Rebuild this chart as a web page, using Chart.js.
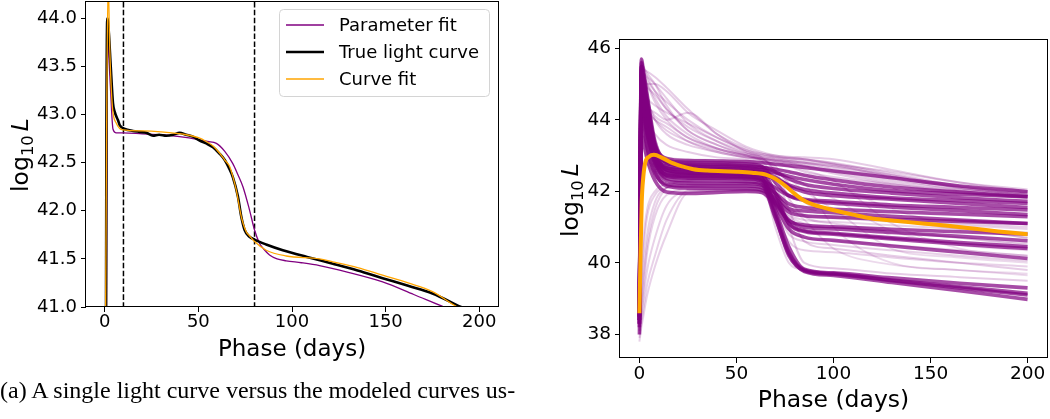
<!DOCTYPE html>
<html>
<head>
<meta charset="utf-8">
<script src="https://cdn.jsdelivr.net/npm/chart.js@4.4.1/dist/chart.umd.min.js"></script>
<style>
  html, body { margin: 0; padding: 0; background: #fff; }
  #page { position: relative; width: 1050px; height: 419px; overflow: hidden; background: #fff; }
  #left { position: absolute; left: 0; top: 0; }
  #right { position: absolute; left: 530px; top: 0; }
  #caption { position: absolute; left: 0; top: 377px; font-family: "Liberation Serif", "Times New Roman", serif;
             font-size: 24px; line-height: 26px; white-space: nowrap; color: #000; }
</style>
</head>
<body>
<div id="page">
  <canvas id="left" width="520" height="380"></canvas>
  <canvas id="right" width="520" height="419"></canvas>
  <div id="caption">(a) A single light curve versus the modeled curves us-</div>
</div>
<script>
// ---- left panel: one light curve and its two fits ----
const phaseTrue = [0.6, 0.9, 1.4, 2.2, 3.2, 4.4, 5.3, 7.1, 8.0, 10.7, 15.1, 18.7, 22.2, 25.8, 29, 32.9, 36.5, 40, 43.5, 47.1,
                   50.7, 54.2, 57.8, 61, 64, 66.2, 68.4, 71.1, 72.9, 74.7, 77.3, 80, 86.2, 95.1, 108, 121.8, 135, 148.4,
                   162, 175, 190.2, 196];
const logLTrue = [40.0, 42.8, 44.0, 43.85, 43.5, 43.12, 43.03, 42.94, 42.89, 42.85, 42.83, 42.82, 42.81, 42.78, 42.79,
                  42.78, 42.79, 42.81, 42.79, 42.77, 42.73, 42.70, 42.66, 42.6, 42.53, 42.45, 42.35, 42.15, 41.94, 41.80,
                  41.73, 41.70, 41.65, 41.59, 41.52, 41.45, 41.38, 41.30, 41.22, 41.14, 41.0, 40.95];

const phaseParam = [0.8, 1.5, 2.2, 3.0, 4.4, 6.2, 10, 20, 30, 40, 50, 55, 59.6, 64, 68.4, 71, 73.8, 77.3, 80, 82.7, 85,
                    88, 92, 96.9, 105, 114.7, 130, 148.4, 165, 181.3, 192];
const logLParam = [40.0, 43.95, 43.6, 43.3, 42.85, 42.81, 42.81, 42.80, 42.79, 42.77, 42.74, 42.72, 42.70, 42.62, 42.49,
                   42.38, 42.25, 42.01, 41.80, 41.66, 41.6, 41.54, 41.5, 41.48, 41.46, 41.43, 41.36, 41.26, 41.13, 41.0, 40.92];

const phaseCurve = [0.2, 1.0, 1.8, 2.7, 4.1, 6.2, 9.8, 20, 30, 43.6, 50, 54.2, 58, 61.3, 64, 66.7, 68.5, 70.2, 72.9, 75.6,
                    77.3, 80, 86.2, 96.9, 114.7, 121.8, 135, 148.4, 162, 175, 188.4, 195];
const logLCurve = [40.0, 42.8, 44.4, 43.67, 43.08, 42.91, 42.84, 42.83, 42.82, 42.79, 42.76, 42.72, 42.67, 42.60, 42.53,
                   42.46, 42.35, 42.22, 41.94, 41.78, 41.74, 41.68, 41.59, 41.53, 41.50, 41.47, 41.41, 41.33, 41.25, 41.16,
                   41.0, 40.95];

const cutPhases = [10, 80];
const xTicks = [0, 50, 100, 150, 200];
const leftYTicks = [41.0, 41.5, 42.0, 42.5, 43.0, 43.5, 44.0];
const rightYTicks = [38, 40, 42, 44, 46];

// ---- right panel: the family of model curves plus the fitted curve ----
const phaseGrid = [0, 1, 2, 4, 8, 14, 25, 40, 55, 63, 70, 77, 85, 100, 130, 165, 200];

const denseCurves = [
  [38.6, 45.3, 45.0, 44.3, 43.3, 42.92, 42.86, 42.85, 42.83, 42.8, 42.76, 42.72, 42.67, 42.57, 42.38, 42.15, 41.99],
  [38.4, 44.9, 44.6, 43.9, 43.0, 42.7, 42.65, 42.64, 42.62, 42.6, 42.52, 42.42, 42.33, 42.2, 42.02, 41.92, 41.85],
  [38.7, 45.5, 45.2, 44.4, 43.2, 42.6, 42.51, 42.5, 42.48, 42.45, 42.35, 42.18, 42.05, 41.95, 41.82, 41.74, 41.66],
  [38.3, 44.6, 44.2, 43.6, 42.8, 42.42, 42.37, 42.36, 42.35, 42.3, 42.1, 41.88, 41.78, 41.72, 41.62, 41.55, 41.48],
  [38.5, 45.0, 44.6, 43.8, 42.75, 42.3, 42.23, 42.22, 42.22, 42.18, 41.95, 41.65, 41.55, 41.5, 41.43, 41.36, 41.29],
  [38.2, 44.3, 44.0, 43.3, 42.55, 42.15, 42.09, 42.08, 42.08, 42.04, 41.8, 41.42, 41.32, 41.28, 41.22, 41.16, 41.10],
  [38.0, 43.6, 43.4, 42.9, 42.3, 41.98, 41.94, 41.97, 42.0, 41.97, 41.65, 41.18, 41.06, 41.01, 40.94, 40.87, 40.8],
  [38.6, 45.6, 45.3, 44.6, 43.3, 42.8, 42.72, 42.7, 42.66, 42.58, 41.95, 41.1, 40.88, 40.8, 40.67, 40.52, 40.4],
  [38.4, 45.1, 44.8, 44.0, 43.0, 42.52, 42.46, 42.45, 42.42, 42.35, 41.65, 40.95, 40.72, 40.63, 40.47, 40.3, 40.12],
  [38.5, 45.4, 45.1, 44.3, 43.1, 42.66, 42.6, 42.6, 42.56, 42.48, 41.5, 40.45, 39.82, 39.72, 39.58, 39.43, 39.3],
  [38.3, 44.8, 44.4, 43.7, 42.8, 42.36, 42.3, 42.3, 42.27, 42.2, 41.25, 40.25, 39.76, 39.65, 39.45, 39.22, 38.98],
  [38.7, 45.7, 45.4, 44.7, 43.4, 42.88, 42.81, 42.8, 42.77, 42.7, 42.25, 41.88, 41.75, 41.67, 41.56, 41.46, 41.35],
  [38.5, 45.2, 44.9, 44.1, 43.0, 42.6, 42.55, 42.55, 42.52, 42.45, 41.95, 41.52, 41.45, 41.4, 41.3, 41.2, 41.1],
  [38.4, 44.7, 44.3, 43.6, 42.85, 42.46, 42.42, 42.42, 42.4, 42.33, 41.8, 41.1, 40.9, 40.83, 40.7, 40.57, 40.45],
  [38.6, 45.3, 45.0, 44.2, 43.05, 42.55, 42.5, 42.5, 42.46, 42.38, 41.4, 40.3, 39.8, 39.7, 39.52, 39.33, 39.15],
  [38.5, 45.5, 45.2, 44.5, 43.3, 42.82, 42.76, 42.75, 42.72, 42.68, 42.55, 42.35, 42.2, 42.08, 41.95, 41.82, 41.72],
  [38.4, 45.0, 44.7, 43.9, 43.0, 42.65, 42.6, 42.6, 42.58, 42.55, 42.4, 42.15, 41.98, 41.88, 41.78, 41.66, 41.55],
  [38.3, 44.2, 43.9, 43.2, 42.5, 42.2, 42.15, 42.15, 42.15, 42.1, 41.7, 41.2, 41.0, 40.95, 40.85, 40.74, 40.62],
  [38.6, 45.4, 45.1, 44.4, 43.2, 42.77, 42.71, 42.7, 42.69, 42.67, 42.62, 42.55, 42.45, 42.32, 42.12, 41.98, 41.85],
  [38.5, 44.9, 44.5, 43.8, 42.9, 42.45, 42.4, 42.4, 42.37, 42.28, 41.3, 40.2, 39.78, 39.68, 39.5, 39.3, 39.1]
];

const brightCurves = [
  [38.5, 45.7, 45.5, 45.2, 44.8, 44.3, 43.8, 43.4, 43.1, 43.0, 42.95, 42.92, 42.9, 42.8, 42.5, 42.15, 41.94],
  [38.5, 45.3, 45.4, 45.35, 45.2, 44.9, 44.3, 43.6, 43.2, 43.05, 42.97, 42.93, 42.9, 42.75, 42.4, 42.1, 41.9],
  [38.6, 44.8, 44.9, 45.0, 45.0, 44.8, 44.2, 43.7, 43.25, 43.1, 43.0, 42.97, 42.95, 42.9, 42.6, 42.25, 42.0],
  [38.6, 44.0, 44.2, 44.3, 44.2, 44.0, 44.2, 43.6, 43.1, 42.95, 42.9, 42.85, 42.8, 42.7, 42.4, 42.1, 41.9],
  [38.5, 45.0, 44.6, 44.0, 43.6, 43.3, 43.1, 42.95, 42.9, 42.85, 42.8, 42.7, 42.55, 42.4, 42.2, 42.0, 41.85],
  [38.4, 45.5, 45.2, 44.6, 44.0, 43.6, 43.3, 43.1, 42.95, 42.9, 42.6, 41.8, 41.3, 41.1, 40.9, 40.7, 40.5],
  [38.5, 45.1, 45.0, 44.9, 44.7, 44.3, 43.7, 43.3, 43.0, 42.9, 42.85, 42.8, 42.75, 42.6, 42.3, 42.05, 41.95],
  [38.6, 44.6, 44.5, 44.3, 44.0, 43.7, 43.4, 43.15, 42.95, 42.85, 42.2, 41.0, 40.0, 39.85, 39.7, 39.6, 39.5],
  [38.4, 45.6, 45.3, 45.0, 44.5, 44.0, 43.5, 43.2, 43.0, 42.92, 42.85, 42.8, 42.7, 42.5, 42.2, 41.95, 41.8],
  [38.5, 45.2, 45.3, 45.2, 45.0, 44.6, 43.9, 43.4, 43.05, 42.95, 42.9, 42.85, 42.8, 42.7, 42.45, 42.15, 41.99],
  [38.5, 45.4, 45.3, 45.1, 44.8, 44.5, 44.0, 43.5, 43.15, 43.05, 43.0, 42.95, 42.9, 42.78, 42.45, 42.1, 41.9],
  [38.6, 45.0, 45.1, 45.0, 44.6, 44.1, 43.6, 43.2, 43.0, 42.9, 42.7, 42.2, 41.7, 41.45, 41.2, 40.95, 40.7],
  [38.5, 44.4, 44.3, 44.2, 44.0, 43.8, 43.4, 43.1, 42.95, 42.9, 42.85, 42.8, 42.72, 42.55, 42.25, 42.0, 41.85],
  [38.4, 45.3, 45.0, 44.5, 44.1, 43.9, 43.5, 43.2, 43.0, 42.92, 42.88, 42.85, 42.8, 42.65, 42.35, 42.05, 41.9],
  [38.5, 45.6, 45.5, 45.3, 45.0, 44.4, 43.7, 43.3, 43.05, 42.95, 42.5, 41.5, 40.6, 40.4, 40.2, 40.0, 39.8],
  [38.6, 44.9, 44.8, 44.6, 44.4, 44.2, 43.9, 43.5, 43.15, 43.0, 42.95, 42.9, 42.85, 42.75, 42.55, 42.25, 42.05]
];

const slowRiseCurves = [
  [38.0, 38.6, 39.2, 40.3, 41.3, 41.9, 42.05, 42.05, 42.05, 42.0, 41.7, 41.3, 41.1, 41.0, 40.85, 40.7, 40.55],
  [38.2, 39.0, 39.8, 40.8, 41.7, 42.1, 42.2, 42.2, 42.2, 42.15, 41.9, 41.5, 41.35, 41.3, 41.2, 41.1, 41.0],
  [37.9, 38.3, 38.7, 39.4, 40.2, 41.2, 42.0, 42.02, 42.03, 42.0, 41.5, 40.8, 40.6, 40.5, 40.35, 40.2, 40.05],
  [38.1, 38.9, 39.5, 40.5, 41.5, 42.1, 42.3, 42.35, 42.35, 42.3, 41.0, 40.0, 39.8, 39.7, 39.5, 39.3, 39.1],
  [38.0, 39.3, 40.3, 41.3, 41.9, 42.1, 42.15, 42.15, 42.15, 42.1, 41.85, 41.45, 41.3, 41.25, 41.15, 41.05, 40.95],
  [38.1, 38.5, 39.0, 39.8, 40.7, 41.6, 42.0, 42.05, 42.05, 42.0, 41.8, 41.35, 41.2, 41.15, 41.05, 40.95, 40.85],
  [37.8, 38.2, 38.5, 39.1, 39.9, 40.8, 41.95, 42.0, 42.0, 41.95, 41.4, 40.6, 40.35, 40.3, 40.15, 40.0, 39.9],
  [38.2, 39.6, 40.6, 41.5, 42.0, 42.2, 42.25, 42.25, 42.25, 42.2, 41.6, 40.9, 40.7, 40.62, 40.5, 40.35, 40.2]
];

const lateDropCurves = [
  [38.5, 44.0, 43.5, 42.9, 42.7, 42.65, 42.62, 42.6, 42.58, 42.5, 42.4, 42.3, 42.2, 41.0, 40.0, 39.8, 39.7],
  [38.5, 44.5, 44.0, 43.2, 42.8, 42.75, 42.72, 42.7, 42.67, 42.6, 42.5, 42.35, 42.0, 41.5, 40.4, 40.15, 40.0],
  [38.5, 45.0, 44.5, 43.6, 43.1, 42.95, 42.9, 42.88, 42.85, 42.8, 42.75, 42.7, 42.6, 42.3, 41.1, 40.4, 40.2],
  [38.5, 44.2, 43.7, 43.0, 42.75, 42.7, 42.68, 42.66, 42.63, 42.58, 42.5, 42.4, 42.2, 41.8, 40.9, 40.5, 40.35],
  [38.5, 44.8, 44.2, 43.3, 42.85, 42.8, 42.78, 42.76, 42.74, 42.7, 42.65, 42.55, 42.45, 42.2, 41.5, 41.0, 40.7],
  [38.5, 43.8, 43.3, 42.8, 42.55, 42.5, 42.48, 42.47, 42.45, 42.4, 42.1, 41.6, 41.2, 40.4, 39.95, 39.8, 39.65]
];

const phaseFitR = [0, 0.5, 1.2, 2, 3, 5, 7.5, 12, 17.5, 22, 27.8, 35, 50, 58, 65.5, 70, 75.8, 80, 84.3, 90, 99.7, 110,
                   120, 133, 146, 160, 171.7, 185, 200];
const logLFitR = [38.59, 40.0, 41.7, 42.4, 42.8, 42.97, 43.02, 42.93, 42.78, 42.7, 42.62, 42.58, 42.55, 42.52, 42.46,
                  42.35, 42.13, 41.93, 41.76, 41.62, 41.48, 41.35, 41.24, 41.17, 41.1, 41.03, 40.96, 40.88, 40.8];


Chart.defaults.font.family = '"DejaVu Sans"';
Chart.defaults.color = '#000';

function points(xs, ys) {
    return xs.map((x, i) => ({ x: x, y: ys[i] }));
} // points

// black box round the plot area
const framePlugin = {
    id: 'frame',
    afterDraw(chart) {
        const a = chart.chartArea, ctx = chart.ctx;
        ctx.save();
        ctx.strokeStyle = '#000';
        ctx.lineWidth = 1;
        ctx.strokeRect(Math.round(a.left) - 0.5, Math.round(a.top) + 0.5,
                       Math.round(a.right - a.left) + 1, Math.round(a.bottom - a.top) - 1);
        ctx.restore();
    }
}; // frame

// "log10 L" with a subscript and an italic L, turned on its side
const yTitlePlugin = {
    id: 'yTitle',
    afterDraw(chart, args, opts) {
        const ctx = chart.ctx;
        const size = opts.size;
        const f1 = size + 'px "DejaVu Sans"';
        const f2 = (size * 0.7) + 'px "DejaVu Sans"';
        const f3 = 'italic ' + size + 'px "DejaVu Sans"';
        ctx.save();
        ctx.translate(opts.x, opts.cy);
        ctx.rotate(-Math.PI / 2);
        ctx.fillStyle = '#000';
        ctx.textBaseline = 'alphabetic';
        ctx.font = f1; const w1 = ctx.measureText('log').width;
        ctx.font = f2; const w2 = ctx.measureText('10').width;
        ctx.font = f3; const w3 = ctx.measureText('L').width;
        const gap = size * 0.17;
        let x = -(w1 + w2 + gap + w3) / 2;
        ctx.font = f1; ctx.fillText('log', x, 0); x += w1;
        ctx.font = f2; ctx.fillText('10', x, size * 0.22); x += w2 + gap;
        ctx.font = f3; ctx.fillText('L', x, 0);
        ctx.restore();
    }
}; // y title

// legend box inside the plot, upper right
const boxLegendPlugin = {
    id: 'boxLegend',
    afterDraw(chart, args, opts) {
        const ctx = chart.ctx;
        const items = chart.data.datasets.filter(d => d.label).reverse();
        ctx.save();
        ctx.beginPath();
        ctx.roundRect(opts.x + 0.5, opts.y + 0.5, opts.w, opts.h, 4);
        ctx.fillStyle = 'rgba(255,255,255,0.8)';
        ctx.fill();
        ctx.strokeStyle = '#d4d4d4';
        ctx.lineWidth = 1;
        ctx.stroke();
        ctx.font = opts.size + 'px "DejaVu Sans"';
        ctx.textBaseline = 'middle';
        items.forEach((d, i) => {
            const y = opts.y + opts.first + i * opts.rowH;
            ctx.beginPath();
            ctx.moveTo(opts.x + 7, y);
            ctx.lineTo(opts.x + 45, y);
            ctx.strokeStyle = d.borderColor;
            ctx.lineWidth = d.borderWidth;
            ctx.stroke();
            ctx.fillStyle = '#000';
            ctx.fillText(d.label, opts.x + 60, y + 1);
        });
        ctx.restore();
    }
}; // legend


function axisX(height, titleSize, titlePad, tickSize) {
    return {
        type: 'linear', min: -10, max: 210,
        afterBuildTicks: s => { s.ticks = xTicks.map(v => ({ value: v })); },
        afterFit: s => { s.height = height; },
        grid: { display: true, drawOnChartArea: false, drawTicks: true, tickLength: 5, color: '#000', tickWidth: 1 },
        border: { display: false },
        ticks: { font: { size: tickSize }, padding: 0, maxRotation: 0, color: '#000' },
        title: { display: true, text: 'Phase (days)', font: { size: titleSize }, color: '#000',
                 padding: { top: 0, bottom: titlePad } }
    };
} // x axis

function axisY(width, min, max, tickVals, digits, tickSize) {
    return {
        type: 'linear', min: min, max: max,
        afterBuildTicks: s => { s.ticks = tickVals.map(v => ({ value: v })); },
        afterFit: s => { s.width = width; s.paddingTop = 0; s.paddingBottom = 0; },
        grid: { display: true, drawOnChartArea: false, drawTicks: true, tickLength: 5, color: '#000', tickWidth: 1 },
        border: { display: false },
        ticks: { font: { size: tickSize }, padding: 4, color: '#000', callback: v => v.toFixed(digits) }
    };
} // y axis


function leftChart() {
    const datasets = [
        { label: 'Curve fit', data: points(phaseCurve, logLCurve), borderColor: '#FFA500', borderWidth: 1.3 },
        { label: 'True light curve', data: points(phaseTrue, logLTrue), borderColor: '#000', borderWidth: 2.6 },
        { label: 'Parameter fit', data: points(phaseParam, logLParam), borderColor: '#800080', borderWidth: 1.3 }
    ];
    cutPhases.forEach(p => {
        datasets.push({ data: [{ x: p, y: 40.5 }, { x: p, y: 44.5 }], borderColor: '#000',
                        borderWidth: 1.5, borderDash: [5.5, 2.4] });
    });
    datasets.forEach(d => { d.pointRadius = 0; d.cubicInterpolationMode = 'monotone'; d.fill = false; });

    new Chart(document.getElementById('left'), {
        type: 'line',
        data: { datasets: datasets },
        options: {
            responsive: false, animation: false, devicePixelRatio: 1,
            layout: { padding: { left: 0, top: 1, right: 22, bottom: 0 } },
            plugins: {
                legend: { display: false }, tooltip: { enabled: false },
                yTitle: { x: 28, cy: 155, size: 23.5 },
                boxLegend: { x: 279, y: 9, w: 210, h: 87, first: 16, rowH: 27, size: 18 }
            },
            scales: {
                x: axisX(73, 23, 16, 18),
                y: axisY(86, 41.0, 44.18, leftYTicks, 1, 18)
            }
        },
        plugins: [framePlugin, yTitlePlugin, boxLegendPlugin]
    });
} // left chart


function rightChart() {
    const datasets = [
        { data: points(phaseFitR, logLFitR), borderColor: '#FFA500', borderWidth: 4 }
    ];
    function addCurves(list, color, width) {
        list.forEach(c => {
            datasets.push({ data: points(phaseGrid, c), borderColor: color, borderWidth: width });
        });
    }
    addCurves(denseCurves, 'rgba(128,0,128,0.7)', 3.6);
    addCurves(brightCurves, 'rgba(128,0,128,0.2)', 2);
    addCurves(slowRiseCurves, 'rgba(128,0,128,0.18)', 2);
    addCurves(lateDropCurves, 'rgba(128,0,128,0.15)', 1.8);
    datasets.forEach(d => { d.pointRadius = 0; d.cubicInterpolationMode = 'monotone'; d.fill = false; });

    new Chart(document.getElementById('right'), {
        type: 'line',
        data: { datasets: datasets },
        options: {
            responsive: false, animation: false, devicePixelRatio: 1,
            layout: { padding: { left: 0, top: 39, right: 3, bottom: 0 } },
            plugins: {
                legend: { display: false }, tooltip: { enabled: false },
                yTitle: { x: 48, cy: 200, size: 23.5 }
            },
            scales: {
                x: axisX(61, 23.5, 4, 18.5),
                y: axisY(90, 37.34, 46.26, rightYTicks, 0, 18.5)
            }
        },
        plugins: [framePlugin, yTitlePlugin]
    });
} // right chart

leftChart();
rightChart();
</script>
</body>
</html>
